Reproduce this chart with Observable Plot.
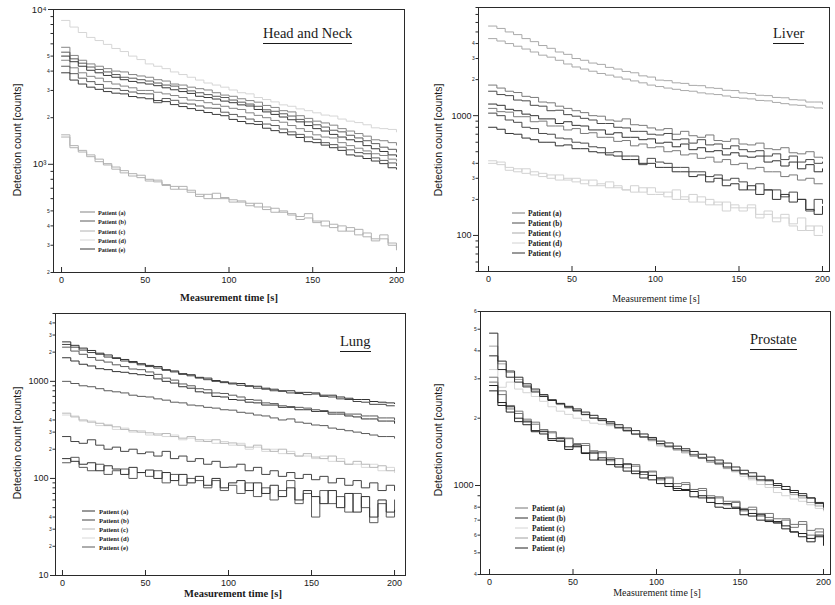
<!DOCTYPE html>
<html>
<head>
<meta charset="utf-8">
<script src="https://cdn.jsdelivr.net/npm/d3@7"></script>
<script src="https://cdn.jsdelivr.net/npm/@observablehq/plot@0.6"></script>
<style>
html,body{margin:0;padding:0;background:#fff;}
#wrap{position:relative;width:835px;height:605px;overflow:hidden;background:#fff;}
.panel{position:absolute;}
.panel svg{display:block;}
.title{position:absolute;font-family:"Liberation Serif","Times New Roman",serif;font-size:14.5px;line-height:14.5px;color:#1a1a1a;border-bottom:1px solid #1a1a1a;padding-bottom:2px;white-space:nowrap;}
.ylab{position:absolute;font-family:"Liberation Sans",Arial,sans-serif;font-size:10.5px;color:#1a1a1a;white-space:nowrap;transform:translate(-50%,-50%) rotate(-90deg);}
.xlab{position:absolute;font-family:"Liberation Serif","Times New Roman",serif;color:#1a1a1a;white-space:nowrap;transform:translate(-50%,-50%);}
.leg{position:absolute;font-family:"Liberation Serif","Times New Roman",serif;font-weight:bold;color:#1a1a1a;white-space:nowrap;display:flex;align-items:center;transform:translateY(-50%);}
.leg svg{display:block;}
</style>
</head>
<body>
<div id="wrap"></div>
<script>
// ---------------- data ----------------
const times = [0,5,10,15,20,25,30,35,40,45,50,55,60,65,70,75,80,85,90,95,100,105,110,115,120,125,130,135,140,145,150,155,160,165,170,175,180,185,190,195,200];
const xTicks = [0,50,100,150,200];
const patientLabels = ["Patient (a)","Patient (b)","Patient (c)","Patient (d)","Patient (e)"];
const patientKeys = ["a","b","c","d","e"];

// Head and Neck
const hn_d1 = [8500,7700,7100,6600,6300,5950,5600,5350,5000,4750,
 4450,4300,4150,3950,3800,3650,3500,3350,3250,3150,
 3020,2900,2850,2700,2620,2530,2420,2370,2280,2220,
 2150,2080,2050,1960,1900,1860,1800,1720,1700,1680,
 1620];
const hn_m1 = [5700,5050,4700,4450,4300,4150,4000,3950,3800,3720,
 3650,3520,3450,3300,3250,3150,3080,3020,2900,2800,
 2750,2650,2580,2520,2400,2330,2220,2180,2060,1980,
 1900,1850,1790,1700,1640,1580,1520,1440,1420,1380,
 1330];
const hn_m2 = [5300,4800,4500,4250,4100,3950,3800,3650,3600,3520,
 3450,3350,3250,3200,3080,2980,2900,2820,2750,2700,
 2600,2520,2450,2370,2250,2200,2120,2050,1950,1880,
 1800,1740,1660,1620,1540,1480,1420,1360,1290,1250,
 1200];
const hn_m3 = [5000,4600,4300,4050,3900,3750,3650,3520,3430,3360,
 3300,3220,3120,3030,2950,2870,2750,2700,2640,2560,
 2500,2420,2380,2260,2180,2100,2020,1940,1880,1780,
 1700,1640,1560,1500,1440,1400,1320,1260,1210,1150,
 1120];
const hn_m4 = [4700,4200,3900,3700,3600,3420,3300,3200,3120,3000,
 3000,2920,2850,2780,2700,2600,2580,2500,2440,2370,
 2300,2260,2150,2070,2000,1920,1870,1780,1700,1630,
 1550,1500,1480,1380,1320,1270,1220,1170,1140,1080,
 1050];
const hn_m5 = [4300,3850,3600,3420,3280,3100,3080,3000,2930,2860,
 2850,2500,2660,2590,2480,2450,2380,2310,2300,2170,
 2100,2030,1960,1890,1820,1780,1690,1620,1560,1500,
 1450,1380,1340,1290,1240,1190,1170,1100,1060,1020,
 980];
const hn_m6 = [3900,3500,3300,3150,3050,2950,2880,2850,2740,2690,
 2650,2580,2540,2430,2360,2290,2230,2160,2100,2060,
 1950,1890,1830,1810,1710,1650,1600,1550,1490,1400,
 1380,1330,1280,1230,1150,1130,1090,1050,1010,950,
 930];
const hn_c1 = [1550,1320,1230,1120,1080,990,960,880,870,820,
 800,770,740,690,720,660,640,600,650,600,
 590,570,540,560,510,520,490,470,460,480,
 420,430,390,400,370,380,340,330,350,300,
 290];
const hn_c2 = [1500,1280,1200,1150,1040,1010,930,910,840,850,
 780,790,730,720,690,680,620,640,600,610,
 570,580,560,530,530,490,500,480,440,450,
 430,400,410,370,390,350,360,320,330,310,
 280];
const hnMajorTicks = [1000,10000];
const hnMajorLabels = ["10³","10⁴"];
const hnMinorTicks = [200,300,400,500,600,700,800,900,2000,3000,4000,5000,6000,7000,8000,9000];

// Liver
const lv_A = [5600,5350,5000,4750,4400,4150,3850,3650,3400,3250,
 3000,2900,2750,2680,2530,2450,2340,2280,2150,2100,
 1980,1960,1880,1860,1790,1780,1710,1690,1630,1620,
 1550,1530,1480,1470,1420,1410,1360,1350,1300,1300,
 1250];
const lv_B = [4400,4200,4000,3800,3600,3400,3200,3080,2900,2700,
 2550,2450,2350,2250,2180,2100,2020,1950,1880,1800,
 1750,1700,1660,1620,1600,1550,1520,1500,1460,1420,
 1400,1380,1340,1330,1290,1260,1230,1220,1180,1160,
 1150];
const lv_L1 = [1800,1700,1600,1560,1450,1420,1300,1280,1200,1150,
 1100,1060,1000,990,920,900,940,840,830,790,
 760,780,700,740,680,660,690,620,610,640,
 580,570,590,530,520,540,490,480,500,450,
 440];
const lv_L2 = [1600,1500,1470,1350,1330,1220,1200,1100,1110,1020,
 990,950,920,860,860,800,790,740,740,700,
 690,710,630,640,590,630,570,580,530,560,
 520,500,510,460,480,430,460,410,430,400,
 410];
const lv_L3 = [1250,1220,1130,1100,1030,1000,940,940,860,890,
 830,820,760,760,700,720,660,660,630,640,
 590,600,550,580,520,540,500,510,470,490,
 460,450,460,410,420,380,410,360,390,340,
 360];
const lv_L4 = [1150,1080,1070,980,980,890,900,820,820,760,
 780,710,720,660,660,610,620,560,580,540,
 550,500,510,470,480,440,450,410,430,390,
 400,360,370,340,340,310,320,290,300,270,
 270];
const lv_L5 = [1050,1000,920,880,800,780,710,700,650,640,
 600,590,550,540,490,500,460,460,390,440,
 410,400,370,370,340,340,310,320,290,300,
 280,240,270,240,240,210,230,200,160,200,
 185];
const lv_L6 = [800,770,710,700,650,630,600,600,560,570,
 530,530,500,490,470,460,430,430,400,400,
 370,370,340,340,310,320,280,300,260,270,
 240,260,220,240,200,220,190,200,165,150,
 175];
const lv_D1 = [420,390,370,340,360,320,330,300,320,290,
 300,270,290,260,280,250,240,260,230,250,
 230,210,240,200,220,190,200,180,190,170,
 170,180,150,160,140,150,125,140,110,120,
 105];
const lv_D2 = [400,410,350,360,330,340,310,320,290,300,
 280,290,260,270,250,260,240,230,250,220,
 220,230,200,210,190,210,180,190,160,180,
 160,170,140,150,130,140,120,110,120,100,
 100];
const lvMajorTicks = [100,1000];
const lvMajorLabels = ["100","1000"];
const lvMinorTicks = [50,60,70,80,90,200,300,400,500,600,700,800,900,2000,3000,4000,5000,6000,7000,8000];

// Lung
const lu_T1 = [2550,2350,2200,2080,1950,1870,1750,1680,1600,1520,
 1460,1420,1320,1280,1200,1170,1100,1080,1020,990,
 960,950,900,890,850,830,800,800,770,770,
 760,720,720,690,670,650,650,620,610,600,
 590];
const lu_T2 = [2400,2250,2100,1980,1900,1780,1720,1620,1560,1480,
 1420,1370,1300,1250,1180,1140,1080,1040,1000,970,
 940,910,890,850,830,800,790,760,750,730,
 740,700,690,660,650,620,610,580,580,560,
 560];
const lu_T3 = [2250,2050,1900,1760,1650,1580,1480,1420,1340,1320,
 1250,1180,1080,1030,940,900,840,820,760,750,
 720,690,650,640,600,590,560,550,540,530,
 510,500,480,480,460,460,440,440,420,420,
 400];
const lu_T4 = [1750,1620,1500,1440,1350,1320,1260,1240,1200,1170,
 1150,1060,1000,960,880,850,780,760,700,690,
 650,640,610,600,570,570,540,540,510,510,
 490,490,460,460,440,430,410,410,390,390,
 370];
const lu_K = [1000,950,900,880,840,800,780,760,720,700,
 690,660,640,610,600,570,560,540,530,510,
 505,480,470,450,440,420,400,410,380,370,
 355,350,330,320,310,300,290,280,270,270,
 260];
const lu_Lc = [470,430,400,380,370,350,340,320,310,300,
 295,280,290,270,260,270,250,240,250,230,
 232,220,210,220,200,190,200,180,170,180,
 166,160,170,150,140,150,140,130,135,120,
 122];
const lu_Ld = [450,440,390,390,350,360,320,330,300,310,
 280,290,270,280,250,260,240,250,230,240,
 220,230,200,210,190,200,180,190,170,170,
 160,170,150,160,140,140,130,140,120,130,
 115];
const lu_D1 = [270,240,230,250,220,200,210,190,200,180,
 187,170,190,160,170,150,160,140,150,130,
 131,140,120,130,110,120,105,115,100,110,
 97,105,90,100,85,95,80,90,75,85,
 75];
const lu_B1 = [160,150,140,145,120,135,125,110,130,115,
 122,100,115,95,110,90,105,85,100,80,
 90,95,75,90,70,85,65,80,60,75,
 65,55,75,50,70,45,65,40,60,45,
 47];
const lu_B2 = [145,165,130,120,140,110,120,125,100,115,
 105,120,90,110,85,100,95,80,95,75,
 85,70,90,65,80,60,75,95,55,70,
 40,75,55,65,45,70,50,35,55,40,
 60];
const luMajorTicks = [10,100,1000];
const luMajorLabels = ["10","100","1000"];
const luMinorTicks = [20,30,40,50,60,70,80,90,200,300,400,500,600,700,800,900,2000,3000,4000,5000];

// Prostate
const pr_U1 = [4800,3600,3250,3050,2850,2700,2550,2420,2320,2240,
 2160,2080,2000,1950,1900,1820,1760,1700,1650,1600,
 1540,1500,1460,1430,1370,1330,1290,1250,1210,1170,
 1130,1100,1060,1050,1000,960,930,900,880,830,
 800];
const pr_U2 = [4200,3500,3200,2980,2800,2650,2520,2400,2300,2220,
 2150,2070,2010,1980,1870,1800,1750,1690,1640,1620,
 1520,1490,1440,1400,1350,1320,1270,1270,1190,1160,
 1120,1080,1050,1010,980,960,910,880,840,810,
 780];
const pr_U3 = [3300,2750,2900,2700,2600,2500,2380,2250,2150,2080,
 2000,1950,1900,1880,1850,1800,1780,1700,1650,1580,
 1500,1480,1450,1420,1380,1340,1300,1240,1200,1150,
 1100,1060,1010,980,930,900,870,850,820,790,
 770];
const pr_U4 = [3800,3300,3050,2900,2760,2620,2500,2400,2330,2260,
 2200,2130,2060,1990,1930,1870,1810,1760,1700,1640,
 1580,1550,1500,1460,1420,1380,1340,1300,1260,1210,
 1170,1140,1100,1060,1020,990,950,920,880,840,
 810];
const pr_W1 = [3050,2550,2200,2100,1920,1880,1740,1720,1580,1620,
 1500,1510,1390,1400,1290,1320,1200,1220,1120,1150,
 1060,1080,990,1010,960,950,880,890,820,840,
 770,780,730,750,680,700,650,690,600,620,
 590];
const pr_W2 = [2800,2350,2250,2000,1940,1760,1750,1620,1620,1450,
 1520,1400,1410,1300,1310,1210,1250,1130,1150,1060,
 1080,990,970,950,940,880,880,830,830,800,
 780,730,740,690,690,640,620,610,560,600,
 570];
const pr_W3 = [2900,2650,2280,2150,1980,1920,1780,1740,1640,1630,
 1540,1540,1430,1420,1330,1320,1240,1240,1150,1160,
 1080,1090,1020,1030,960,970,900,880,850,850,
 790,800,750,720,710,710,670,670,630,640,
 610];
const pr_W4 = [2650,2280,2130,1930,1870,1740,1700,1590,1580,1490,
 1490,1390,1300,1330,1240,1240,1160,1160,1080,1110,
 1020,1020,950,960,890,900,840,800,790,790,
 740,750,700,700,680,660,620,590,580,590,
 540];
const prMajorTicks = [1000];
const prMajorLabels = ["1000"];
const prMinorTicks = [400,500,600,700,800,900,2000,3000,4000,5000,6000];

// ---------------- styles & layout ----------------
const panels = [
  {
    title: "Head and Neck", yDomain: [200, 10000],
    majors: hnMajorTicks, majorLabels: hnMajorLabels, minors: hnMinorTicks, majorFont: 9.5,
    colors: {a: "#858585", b: "#5c5c5c", c: "#b2b2b2", d: "#d6d6d6", e: "#3a3a3a"},
    series: [[hn_d1,"d"],[hn_c1,"c"],[hn_c2,"c"],[hn_m1,"a"],[hn_m4,"a"],[hn_m2,"b"],[hn_m5,"b"],[hn_m3,"e"],[hn_m6,"e"]],
    box: {left: 0, top: 0, width: 418, height: 300, mt: 9, mr: 14, mb: 28, ml: 53}, xDomain: [-4.8, 204.8],
    titlePos: {x: 263, y: 26}, ylabPos: {x: 17, y: 140}, xlabPos: {x: 229, y: 297, size: 10.5, weight: "bold"},
    legend: {x: 80, y: 212, dy: 9.3, len: 15, gap: 3, size: 6.2}
  },
  {
    title: "Liver", yDomain: [50, 8000],
    majors: lvMajorTicks, majorLabels: lvMajorLabels, minors: lvMinorTicks, majorFont: 9,
    colors: {a: "#7a7a7a", b: "#4a4a4a", c: "#a9a9a9", d: "#d2d2d2", e: "#333333"},
    series: [[lv_D1,"d"],[lv_D2,"d"],[lv_A,"c"],[lv_B,"c"],[lv_L1,"a"],[lv_L4,"a"],[lv_L2,"b"],[lv_L5,"b"],[lv_L3,"e"],[lv_L6,"e"]],
    box: {left: 418, top: 0, width: 417, height: 300, mt: 7, mr: 6, mb: 29, ml: 60}, xDomain: [-6, 204.2],
    titlePos: {x: 773, y: 26}, ylabPos: {x: 438, y: 140}, xlabPos: {x: 656, y: 298, size: 10, weight: "normal"},
    legend: {x: 512, y: 213, dy: 10, len: 13, gap: 3, size: 7.5}
  },
  {
    title: "Lung", yDomain: [10, 5000],
    majors: luMajorTicks, majorLabels: luMajorLabels, minors: luMinorTicks, majorFont: 9,
    colors: {a: "#333333", b: "#444444", c: "#b8b8b8", d: "#d8d8d8", e: "#5a5a5a"},
    series: [[lu_Ld,"d"],[lu_Lc,"c"],[lu_B2,"e"],[lu_B1,"a"],[lu_D1,"b"],[lu_K,"e"],[lu_T4,"a"],[lu_T3,"e"],[lu_T2,"b"],[lu_T1,"a"]],
    box: {left: 0, top: 300, width: 418, height: 305, mt: 13, mr: 13, mb: 30, ml: 55}, xDomain: [-4.2, 206.6],
    titlePos: {x: 340, y: 334}, ylabPos: {x: 17, y: 443}, xlabPos: {x: 233, y: 593, size: 10.5, weight: "bold"},
    legend: {x: 82, y: 511, dy: 9, len: 13, gap: 4, size: 6.6}
  },
  {
    title: "Prostate", yDomain: [400, 6000],
    majors: prMajorTicks, majorLabels: prMajorLabels, minors: prMinorTicks, majorFont: 9,
    colors: {a: "#767676", b: "#2e2e2e", c: "#d4d4d4", d: "#a0a0a0", e: "#222222"},
    series: [[pr_U3,"c"],[pr_U2,"d"],[pr_W1,"a"],[pr_W3,"a"],[pr_W2,"e"],[pr_W4,"e"],[pr_U4,"b"],[pr_U1,"b"]],
    box: {left: 418, top: 300, width: 417, height: 305, mt: 11, mr: 5, mb: 31, ml: 62}, xDomain: [-5.4, 204.2],
    titlePos: {x: 750, y: 332}, ylabPos: {x: 438, y: 440}, xlabPos: {x: 657, y: 592, size: 10, weight: "normal"},
    legend: {x: 515, y: 508, dy: 10, len: 13, gap: 4, size: 7.4}
  }
];

const wrap = document.getElementById("wrap");
const leadDigit = d => String(Math.round(d / Math.pow(10, Math.floor(Math.log10(d) + 1e-9))));

for (const p of panels) {
  const marks = [];
  p.series.forEach(([vals, key], i) => {
    const rows = times.map((t, j) => ({t, v: vals[j]}));
    marks.push(Plot.line(rows, {x: "t", y: "v", curve: "step-after", stroke: p.colors[key], strokeWidth: 1}));
  });
  marks.push(Plot.frame({stroke: "#2a2a2a", strokeWidth: 1}));
  marks.push(Plot.axisX({ticks: xTicks, tickSize: -5, tickFormat: () => "", label: null, stroke: "#2a2a2a"}));
  marks.push(Plot.axisX({ticks: xTicks, tickSize: 0, tickPadding: 4, label: null, fontSize: 9, fill: "#1a1a1a"}));
  marks.push(Plot.axisY({ticks: p.majors, tickSize: 5, tickPadding: 2, label: null, fontSize: p.majorFont,
    tickFormat: d => p.majorLabels[p.majors.indexOf(d)], stroke: "#2a2a2a", fill: "#1a1a1a"}));
  marks.push(Plot.axisY({ticks: p.minors, tickSize: 2.5, tickPadding: 1.2, label: null, fontSize: 5,
    tickFormat: leadDigit, stroke: "#2a2a2a", fill: "#1a1a1a"}));

  const chart = Plot.plot({
    width: p.box.width, height: p.box.height,
    marginTop: p.box.mt, marginRight: p.box.mr, marginBottom: p.box.mb, marginLeft: p.box.ml,
    x: {domain: p.xDomain},
    y: {type: "log", domain: p.yDomain},
    style: {background: "transparent", fontFamily: "'Liberation Sans', Arial, sans-serif", color: "#1a1a1a"},
    marks
  });
  const div = document.createElement("div");
  div.className = "panel";
  div.style.left = p.box.left + "px";
  div.style.top = p.box.top + "px";
  div.appendChild(chart);
  wrap.appendChild(div);

  const t = document.createElement("div");
  t.className = "title";
  t.textContent = p.title;
  t.style.left = p.titlePos.x + "px";
  t.style.top = p.titlePos.y + "px";
  wrap.appendChild(t);

  const yl = document.createElement("div");
  yl.className = "ylab";
  yl.textContent = "Detection count [counts]";
  yl.style.left = p.ylabPos.x + "px";
  yl.style.top = p.ylabPos.y + "px";
  wrap.appendChild(yl);

  const xl = document.createElement("div");
  xl.className = "xlab";
  xl.textContent = "Measurement time [s]";
  xl.style.left = p.xlabPos.x + "px";
  xl.style.top = p.xlabPos.y + "px";
  xl.style.fontSize = p.xlabPos.size + "px";
  xl.style.fontWeight = p.xlabPos.weight;
  wrap.appendChild(xl);

  patientKeys.forEach((k, i) => {
    const row = document.createElement("div");
    row.className = "leg";
    row.style.left = p.legend.x + "px";
    row.style.top = (p.legend.y + i * p.legend.dy) + "px";
    row.style.fontSize = p.legend.size + "px";
    const svg = d3.create("svg").attr("width", p.legend.len).attr("height", 3);
    svg.append("line").attr("x1", 0).attr("x2", p.legend.len).attr("y1", 1.5).attr("y2", 1.5)
      .attr("stroke", p.colors[k]).attr("stroke-width", 1);
    row.appendChild(svg.node());
    const sp = document.createElement("span");
    sp.style.marginLeft = p.legend.gap + "px";
    sp.textContent = patientLabels[i];
    row.appendChild(sp);
    wrap.appendChild(row);
  });
}
</script>
</body>
</html>
